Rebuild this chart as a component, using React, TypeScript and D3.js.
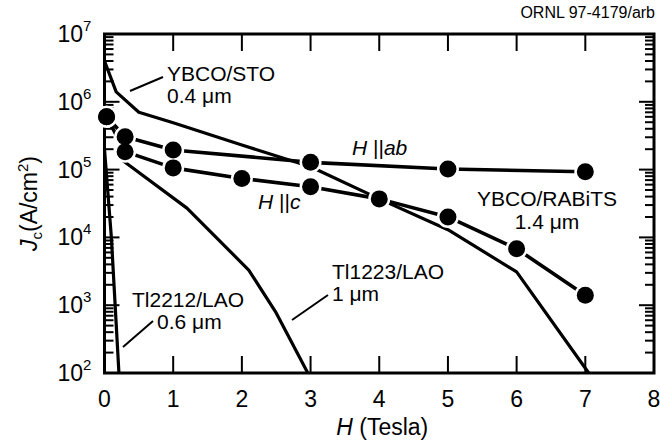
import React from "react";
import * as d3 from "d3";

// values (H in Tesla, Jc in A/cm^2)
const stoH = [0, 0.17, 0.5, 1, 2, 3, 4, 5, 6, 7.05];
const stoJc = [4e6, 1.4e6, 7e5, 4.9e5, 2.3e5, 1.1e5, 3.7e4, 1.3e4, 3.1e3, 100];

const abH = [0.03, 0.3, 1, 3, 5, 7];
const abJc = [6e5, 3.05e5, 1.95e5, 1.28e5, 1.02e5, 9.3e4];

const cH = [0.03, 0.3, 1, 2, 3, 4, 5, 6, 7];
const cJc = [6e5, 1.84e5, 1.06e5, 7.4e4, 5.6e4, 3.7e4, 2.0e4, 6.8e3, 1.4e3];

const tl1223H = [0.27, 1.2, 2.1, 2.5, 2.96];
const tl1223Jc = [1.35e5, 2.7e4, 3.3e3, 7.7e2, 100];

const tl2212H = [0, 0.1, 0.21];
const tl2212Jc = [2e5, 1e4, 100];

const xTicks = [0, 1, 2, 3, 4, 5, 6, 7, 8];
const yExps = [2, 3, 4, 5, 6, 7];

const font = "'Liberation Sans', Arial, Helvetica, sans-serif";

const margin = { left: 104.5, right: 6, top: 34, bottom: 71 };
const W = 660;
const H = 444;

const x = d3.scaleLinear().domain([0, 8]).range([margin.left, W - margin.right]);
const y = d3.scaleLog().domain([1e2, 1e7]).range([H - margin.bottom, margin.top]);

const line = d3
  .line<[number, number]>()
  .x((d) => x(d[0]))
  .y((d) => y(d[1]));

const zip = (a: number[], b: number[]) => a.map((v, i) => [v, b[i]] as [number, number]);

export default function App() {
  const x0 = x(0);
  const x1 = x(8);
  const y0 = y(1e2);
  const y1 = y(1e7);

  const minor: number[] = [];
  for (let e = 2; e < 7; e++) {
    for (let k = 2; k <= 9; k++) minor.push(k * Math.pow(10, e));
  }

  const markers = [...zip(abH, abJc), ...zip(cH, cJc)];

  return (
    <svg
      width={W}
      height={H}
      style={{ position: "absolute", left: 0, top: 0, background: "#fff" }}
      fontFamily={font}
    >
      <rect x={0} y={0} width={W} height={H} fill="#fff" />
      <text x={655} y={18} fontSize={16} textAnchor="end">
        ORNL 97-4179/arb
      </text>

      {/* curves */}
      <g fill="none" stroke="#000" strokeWidth={3.2} strokeLinejoin="round">
        <path d={line(zip(stoH, stoJc)) || ""} />
        <path d={line(zip(tl1223H, tl1223Jc)) || ""} />
        <path d={line(zip(tl2212H, tl2212Jc)) || ""} />
        <path d={line(zip(abH, abJc)) || ""} strokeWidth={3.6} />
        <path d={line(zip(cH, cJc)) || ""} strokeWidth={3.6} />
      </g>

      {/* frame and ticks */}
      <g stroke="#000">
        {xTicks.slice(1, -1).map((t) => (
          <g key={"x" + t} strokeWidth={2}>
            <line x1={x(t)} x2={x(t)} y1={y0} y2={y0 - 17} />
            <line x1={x(t)} x2={x(t)} y1={y1} y2={y1 + 17} />
          </g>
        ))}
        {minor.map((v, i) => (
          <g key={"m" + i} strokeWidth={2}>
            <line x1={x0} x2={x0 + 9} y1={y(v)} y2={y(v)} />
            <line x1={x1} x2={x1 - 9} y1={y(v)} y2={y(v)} />
          </g>
        ))}
        {yExps.slice(1, -1).map((e) => (
          <g key={"M" + e} strokeWidth={2}>
            <line x1={x0} x2={x0 + 15} y1={y(Math.pow(10, e))} y2={y(Math.pow(10, e))} />
            <line x1={x1} x2={x1 - 15} y1={y(Math.pow(10, e))} y2={y(Math.pow(10, e))} />
          </g>
        ))}
        <rect x={x0} y={y1} width={x1 - x0} height={y0 - y1} fill="none" strokeWidth={3} />
      </g>

      {/* markers with white halo */}
      <g>
        {markers.map((d, i) => (
          <circle key={"w" + i} cx={x(d[0])} cy={y(d[1])} r={11} fill="#fff" />
        ))}
        {markers.map((d, i) => (
          <circle key={"b" + i} cx={x(d[0])} cy={y(d[1])} r={8.5} fill="#000" />
        ))}
      </g>

      {/* tick labels */}
      {xTicks.map((t) => (
        <text key={"xl" + t} x={x(t)} y={407} fontSize={23} textAnchor="middle">
          {t}
        </text>
      ))}
      {yExps.map((e) => (
        <g key={"yl" + e}>
          <text x={83} y={y(Math.pow(10, e)) + 8} fontSize={23} textAnchor="end">
            10
          </text>
          <text x={83} y={y(Math.pow(10, e)) - 3} fontSize={15}>
            {e}
          </text>
        </g>
      ))}

      {/* axis titles */}
      <text x={(x0 + x1) / 2 + 3} y={435} fontSize={23} textAnchor="middle">
        <tspan fontStyle="italic">H</tspan> (Tesla)
      </text>
      <text
        transform={`translate(37,${(y0 + y1) / 2}) rotate(-90)`}
        fontSize={23}
        textAnchor="middle"
      >
        <tspan fontStyle="italic">J</tspan>
        <tspan fontSize={15} dy={5}>c</tspan>
        <tspan dy={-5}>(A/cm</tspan>
        <tspan fontSize={15} dy={-9}>2</tspan>
        <tspan dy={9}>)</tspan>
      </text>

      {/* annotations */}
      <g fontSize={21}>
        <text x={167} y={81}>YBCO/STO</text>
        <text x={167} y={103}>0.4 μm</text>
        <text x={132} y={307}>Tl2212/LAO</text>
        <text x={157} y={329}>0.6 μm</text>
        <text x={332} y={279}>Tl1223/LAO</text>
        <text x={332} y={301}>1 μm</text>
        <text x={547} y={206} textAnchor="middle">YBCO/RABiTS</text>
        <text x={547} y={229} textAnchor="middle">1.4 μm</text>
        <text x={352} y={155}>
          <tspan fontStyle="italic">H</tspan> ||<tspan fontStyle="italic">ab</tspan>
        </text>
        <text x={258} y={209}>
          <tspan fontStyle="italic">H</tspan> ||<tspan fontStyle="italic">c</tspan>
        </text>
      </g>
      <g stroke="#000" strokeWidth={2}>
        <line x1={130} y1={91} x2={163} y2={77} />
        <line x1={123} y1={347} x2={153} y2={321} />
        <line x1={292} y1={320} x2={328} y2={295} />
      </g>
    </svg>
  );
}
